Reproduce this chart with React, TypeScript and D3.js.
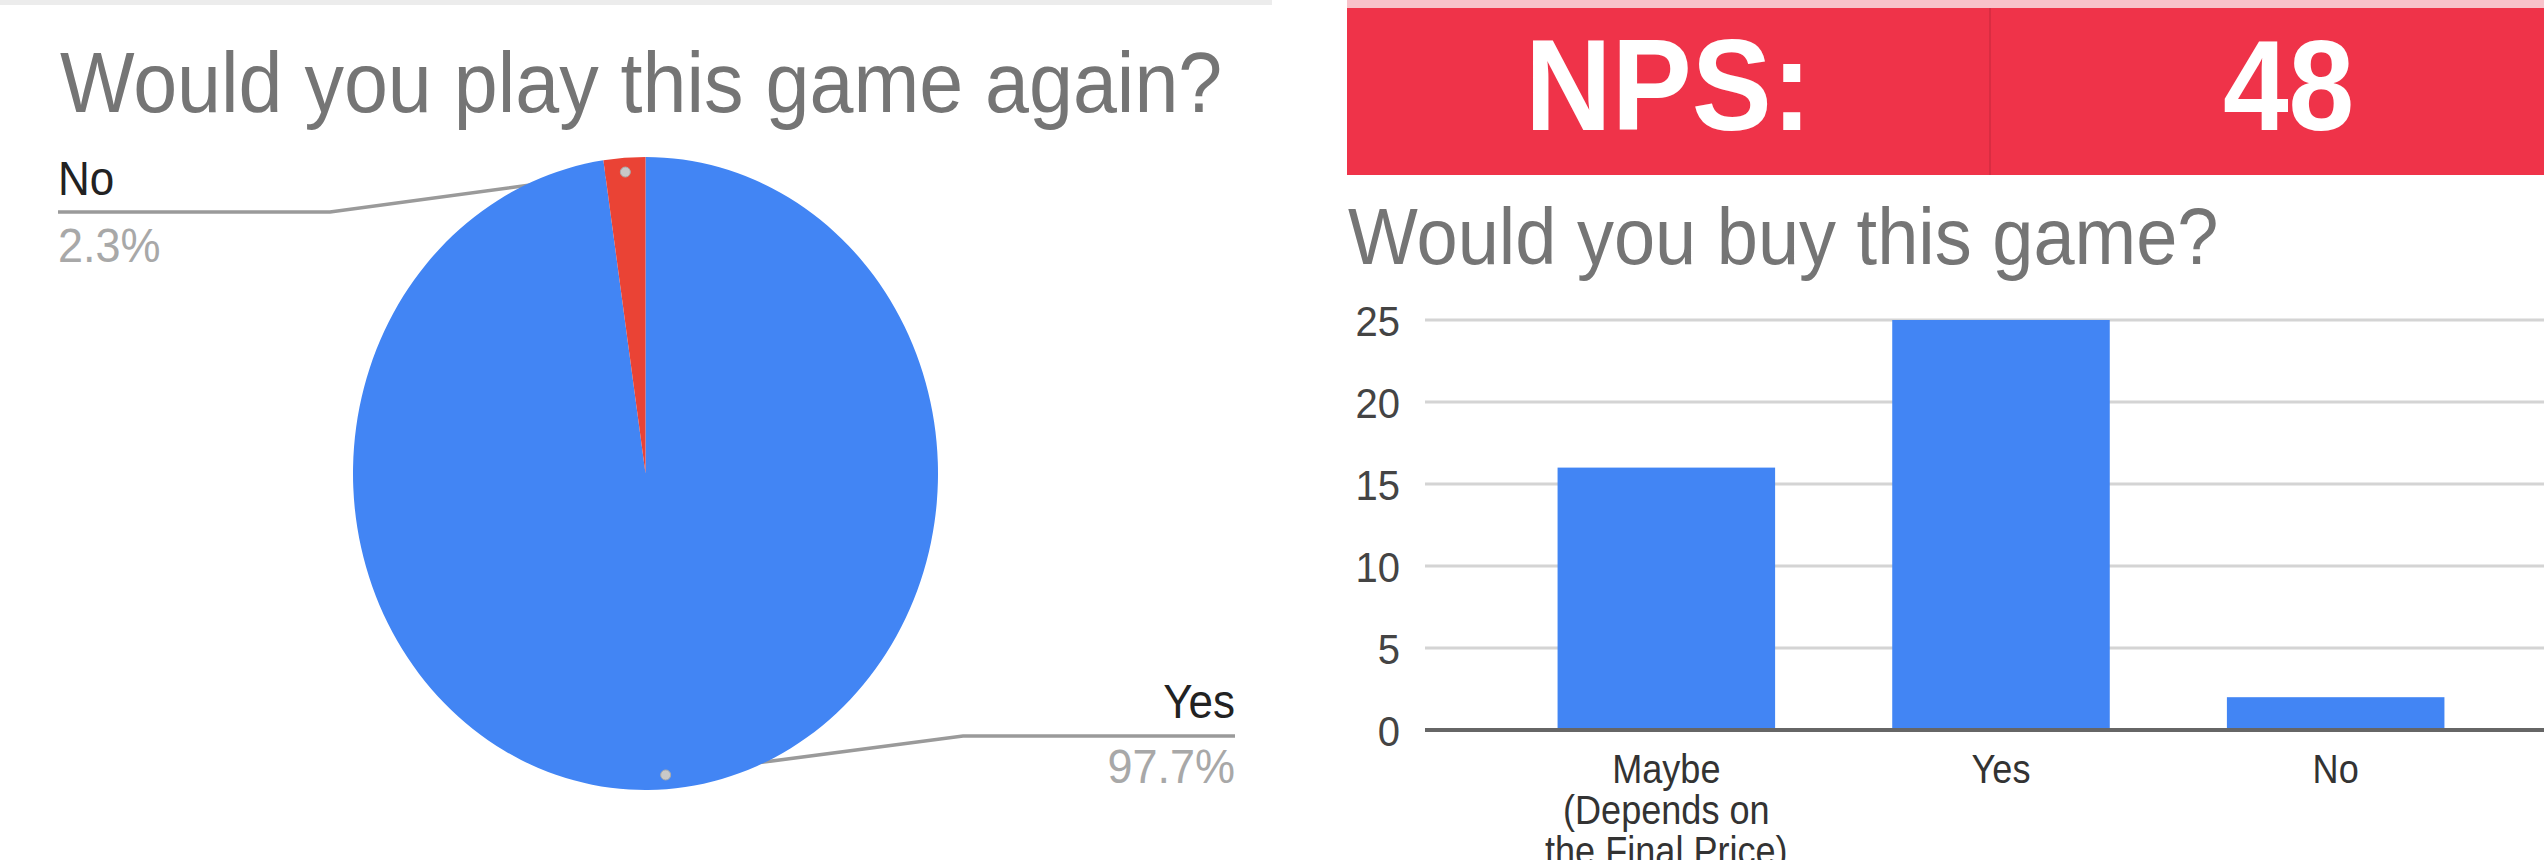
import React from 'react';
import * as d3 from 'd3';

// ---- data ----
const pieTitle = 'Would you play this game again?';
const pieLabels = ['Yes', 'No'];
const pieValues = [97.7, 2.3];
const pieColors = ['#4285F4', '#EA4335'];

const npsLabel = 'NPS:';
const npsValue = '48';

const barTitle = 'Would you buy this game?';
const barCategories = ['Maybe (Depends on the Final Price)', 'Yes', 'No'];
const barCategoryLines = [['Maybe', '(Depends on', 'the Final Price)'], ['Yes'], ['No']];
const barValues = [16, 25, 2];
const yTicks = [0, 5, 10, 15, 20, 25];

// ---- layout ----
const W = 2544;
const H = 860;
const K = 1.08; // vertical stretch of the source image
const FONT = "'Liberation Sans', Arial, Helvetica, sans-serif";

function T(props: any) {
  const { x, y, sx = 1, children, ...rest } = props;
  return (
    <text transform={`translate(${x},${y}) scale(${sx},${K})`} fontFamily={FONT} {...rest}>
      {children}
    </text>
  );
}

export default function App() {
  // pie
  const cx = 645.5;
  const cy = 473.5;
  const r = 292.5;
  const ry = 1.082;
  const pieGen = d3.pie<number>().sort(null).startAngle(0).endAngle(2 * Math.PI);
  const arcs = pieGen(pieValues);
  const arcGen = d3.arc<any>().innerRadius(0).outerRadius(r);
  const dotArc = d3.arc<any>().innerRadius(r * 0.955).outerRadius(r * 0.955);
  const pct = (v: number) => `${v.toFixed(1)}%`;
  const labelLayout = [
    { side: 'right', lineY: 736, elbowX: 963, endX: 1235, nameY: 718, pctY: 783 },
    { side: 'left', lineY: 212, elbowX: 330, endX: 58, nameY: 195, pctY: 262 },
  ];

  // bars
  const y = d3.scaleLinear().domain([0, 25]).range([730, 320]);
  const x = d3
    .scaleBand<string>()
    .domain(barCategories)
    .range([1499, 2503])
    .paddingInner(0.35)
    .paddingOuter(0.175);
  const gridX1 = 1425;

  return (
    <svg
      width={W}
      height={H}
      style={{ position: 'absolute', left: 0, top: 0, background: '#fff' }}
    >
      <rect x={0} y={0} width={W} height={H} fill="#fff" />
      {/* faint top strip of left card */}
      <rect x={0} y={0} width={1272} height={5} fill="#ececec" />

      {/* left title */}
      <T x={60} y={112} fontSize={79} fill="#757575">
        {pieTitle}
      </T>

      {/* leader lines (under pie) */}
      {arcs.map((a, i) => {
        const c = dotArc.centroid(a);
        const px = cx + c[0];
        const py = cy + c[1] * ry;
        const L = labelLayout[i];
        return (
          <polyline
            key={'l' + i}
            points={`${px},${py} ${L.elbowX},${L.lineY} ${L.endX},${L.lineY}`}
            fill="none"
            stroke="#9a9a9a"
            strokeWidth={3.5}
          />
        );
      })}

      {/* pie */}
      <g transform={`translate(${cx},${cy}) scale(1,${ry})`}>
        {arcs.map((a, i) => (
          <path key={i} d={arcGen(a) as string} fill={pieColors[i]} />
        ))}
      </g>
      {arcs.map((a, i) => {
        const c = dotArc.centroid(a);
        return (
          <circle
            key={'d' + i}
            cx={cx + c[0]}
            cy={cy + c[1] * ry}
            r={5}
            fill="#c8c8c8"
            stroke="#aaaaaa"
            strokeWidth={1}
          />
        );
      })}

      {/* pie labels */}
      {arcs.map((a, i) => {
        const L = labelLayout[i];
        const anchor = L.side === 'left' ? 'start' : 'end';
        return (
          <g key={'t' + i}>
            <T x={L.endX} y={L.nameY} fontSize={44} fill="#222" textAnchor={anchor}>
              {pieLabels[i]}
            </T>
            <T x={L.endX} y={L.pctY} fontSize={45} fill="#a8a8a8" textAnchor={anchor}>
              {pct(pieValues[i])}
            </T>
          </g>
        );
      })}

      {/* NPS banner */}
      <rect x={1347} y={0} width={W - 1347} height={8} fill="#f8c2ca" />
      <rect x={1347} y={8} width={W - 1347} height={167} fill="#EF3349" />
      <line x1={1990} x2={1990} y1={8} y2={175} stroke="#d92d42" strokeWidth={2} />
      <T x={1525} y={130} fontSize={120} fontWeight="bold" fill="#fff">
        {npsLabel}
      </T>
      <T x={2223} y={130} fontSize={118} fontWeight="bold" fill="#fff">
        {npsValue}
      </T>

      {/* bar title */}
      <T x={1348} y={264} fontSize={74} fill="#757575">
        {barTitle}
      </T>

      {/* gridlines */}
      {yTicks
        .filter((t) => t !== 0)
        .map((t) => (
          <line key={'g' + t} x1={gridX1} x2={W} y1={y(t)} y2={y(t)} stroke="#d4d4d4" strokeWidth={3} />
        ))}
      {yTicks.map((t) => (
        <T key={'yt' + t} x={gridX1 - 25} y={y(t) + 16} fontSize={40} fill="#444" textAnchor="end">
          {t}
        </T>
      ))}

      {/* bars */}
      {barCategories.map((c, i) => (
        <rect
          key={'b' + i}
          x={x(c)}
          y={y(barValues[i])}
          width={x.bandwidth()}
          height={y(0) - y(barValues[i])}
          fill="#4285F4"
        />
      ))}
      <line x1={gridX1} x2={W} y1={y(0)} y2={y(0)} stroke="#666" strokeWidth={4} />

      {/* x labels */}
      {barCategories.map((c, i) => (
        <g key={'xl' + i}>
          {barCategoryLines[i].map((ln, j) => (
            <T
              key={j}
              x={(x(c) as number) + x.bandwidth() / 2}
              y={783 + j * 41}
              fontSize={38}
              sx={0.95}
              fill="#333"
              textAnchor="middle"
            >
              {ln}
            </T>
          ))}
        </g>
      ))}
    </svg>
  );
}
